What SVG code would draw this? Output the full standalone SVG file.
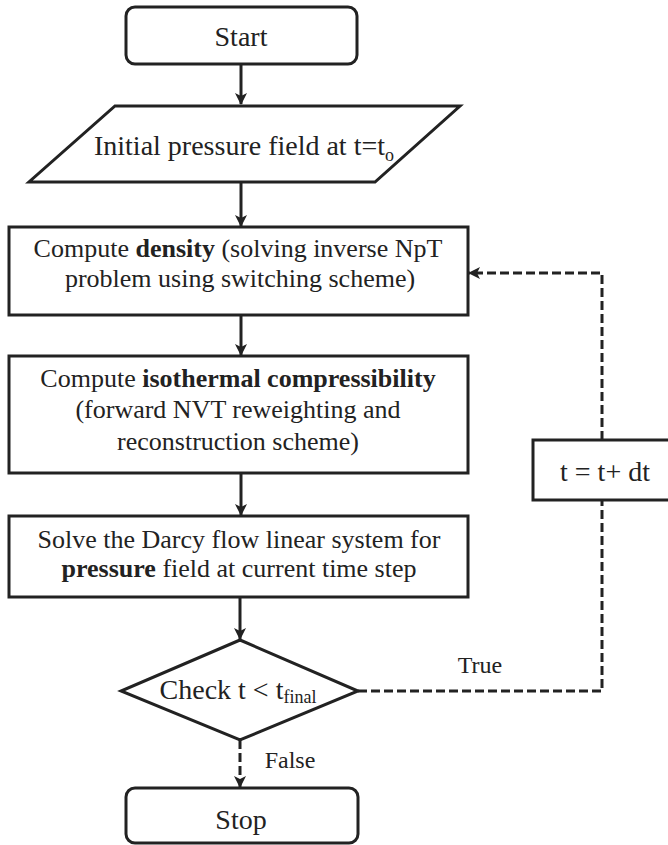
<svg xmlns="http://www.w3.org/2000/svg" width="668" height="845" viewBox="0 0 668 845">
  <style>
    .shape { fill: #ffffff; stroke: #222222; stroke-width: 3; }
    .txt { font-family: "Liberation Serif", "Times New Roman", serif; fill: #222222; text-anchor: middle; }
    .main { font-size: 26px; }
    .big { font-size: 28px; }
    .lbl { font-size: 24px; }
    .b { font-weight: bold; }
    .flow { fill: none; stroke: #222222; stroke-width: 3; }
    .dash { stroke-dasharray: 9 4; }
  </style>
  <defs>
    <marker id="arrow" viewBox="0 0 12 12" refX="11" refY="6" markerWidth="12" markerHeight="12" markerUnits="userSpaceOnUse" orient="auto">
      <path d="M0,0 L12,6 L0,12 L3,6 z" fill="#222222"/>
    </marker>
  </defs>

  <!-- connectors -->
  <g id="connectors">
    <line class="flow" x1="241" y1="64" x2="241" y2="104" marker-end="url(#arrow)"/>
    <line class="flow" x1="241" y1="182" x2="241" y2="226" marker-end="url(#arrow)"/>
    <line class="flow" x1="241" y1="315" x2="241" y2="355" marker-end="url(#arrow)"/>
    <line class="flow" x1="241" y1="473" x2="241" y2="515" marker-end="url(#arrow)"/>
    <line class="flow" x1="240" y1="597" x2="240" y2="639" marker-end="url(#arrow)"/>
    <line class="flow dash" x1="240" y1="740" x2="240" y2="787" marker-end="url(#arrow)"/>
    <polyline class="flow dash" points="358,691 602,691 602,500"/>
    <polyline class="flow dash" points="602,440 602,273 469,273" marker-end="url(#arrow)"/>
    <text class="txt lbl" x="480" y="673">True</text>
    <text class="txt lbl" x="290" y="768">False</text>
  </g>

  <g id="start">
    <rect class="shape" x="126" y="7" width="231" height="57" rx="9"/>
    <text class="txt big" x="241" y="46">Start</text>
  </g>

  <g id="initial">
    <polygon class="shape" points="115,106 460,106 375,182 29,182"/>
    <text class="txt big" x="244" y="155">Initial pressure field at t=t<tspan font-size="18" dy="6">o</tspan></text>
  </g>

  <g id="density">
    <rect class="shape" x="9" y="227" width="459" height="88"/>
    <text class="txt main" x="238" y="257">Compute <tspan class="b">density</tspan> (solving inverse NpT</text>
    <text class="txt main" x="240" y="287">problem using switching scheme)</text>
  </g>

  <g id="compressibility">
    <rect class="shape" x="9" y="356" width="459" height="117"/>
    <text class="txt main" x="238" y="387">Compute <tspan class="b">isothermal compressibility</tspan></text>
    <text class="txt main" x="238" y="418">(forward NVT reweighting and</text>
    <text class="txt main" x="238" y="450">reconstruction scheme)</text>
  </g>

  <g id="pressure">
    <rect class="shape" x="9" y="516" width="459" height="81"/>
    <text class="txt main" x="239" y="548">Solve the Darcy flow linear system for</text>
    <text class="txt main" x="239" y="577"><tspan class="b">pressure</tspan> field at current time step</text>
  </g>

  <g id="check">
    <polygon class="shape" points="240,640 358,691 240,740 121,691"/>
    <text class="txt big" x="238" y="699">Check t &lt; t<tspan font-size="18" dy="4">final</tspan></text>
  </g>

  <g id="increment">
    <rect class="shape" x="533" y="440" width="137" height="60"/>
    <text class="txt big" x="605" y="481">t = t+ dt</text>
  </g>

  <g id="stop">
    <rect class="shape" x="126" y="788" width="232" height="55" rx="9"/>
    <text class="txt big" x="241" y="829">Stop</text>
  </g>
</svg>
